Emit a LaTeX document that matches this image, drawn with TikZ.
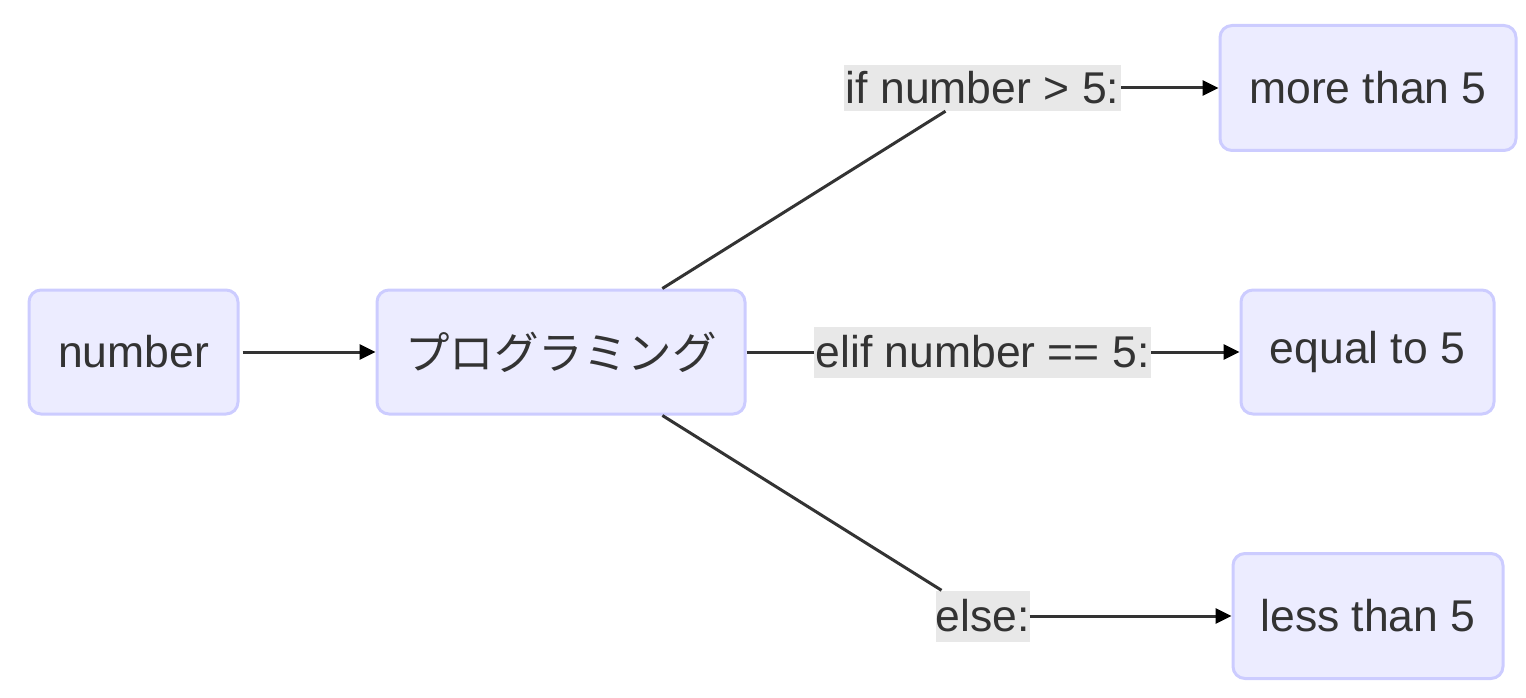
\documentclass[tikz,border=0pt]{standalone}
\usepackage{fontspec}
\setmainfont{Liberation Sans}
\newfontfamily\cjk{Noto Sans CJK JP}
\usetikzlibrary{arrows.meta}
\definecolor{nodefill}{HTML}{ECECFF}
\definecolor{nodeline}{HTML}{CCCCFF}
\definecolor{txt}{HTML}{333333}
\definecolor{lblbg}{HTML}{E8E8E8}
\tikzset{
  box/.style={draw=nodeline, fill=nodefill, line width=3pt, rounded corners=12pt,
    text=txt, inner sep=0pt, font=\fontsize{44.5}{53}\selectfont},
  lbl/.style={fill=lblbg, text=txt, inner sep=0pt, font=\fontsize{44.5}{53}\selectfont},
  edge/.style={draw=txt, line width=3pt},
  arr/.style={draw=txt, line width=3pt, -{Triangle[length=16pt,width=15pt,color=black,fill=black]}},
}
\begin{document}
\begin{tikzpicture}[x=1pt,y=-1pt]
\useasboundingbox (0,0) rectangle (1526,698);
\node[box, minimum width=209pt, minimum height=124pt] (num) at (133.5,352) {number};
\node[box, minimum width=368pt, minimum height=124pt] (prog) at (561,352) {\cjk プログラミング};
\node[box, minimum width=296pt, minimum height=125pt] (more) at (1368,88) {more than 5};
\node[box, minimum width=253pt, minimum height=124pt] (eq) at (1367.5,352) {equal to 5};
\node[box, minimum width=270pt, minimum height=125pt] (less) at (1368,616) {less than 5};
\node[lbl, minimum width=277pt, minimum height=46pt] (l1) at (982.5,88) {if number > 5:};
\node[lbl, minimum width=337pt, minimum height=51pt] (l2) at (982.5,352) {elif number == 5:};
\node[lbl, minimum width=93pt, minimum height=51pt] (l3) at (982.5,616) {else:};
\draw[arr] ([xshift=3pt]num.east) -- (prog.west);
\draw[edge] (prog) -- (l1);
\draw[edge] (prog.east) -- (l2.west);
\draw[edge] (prog) -- (l3);
\draw[arr] (l1.east) -- (more.west);
\draw[arr] (l2.east) -- (eq.west);
\draw[arr] (l3.east) -- (less.west);
\end{tikzpicture}
\end{document}
